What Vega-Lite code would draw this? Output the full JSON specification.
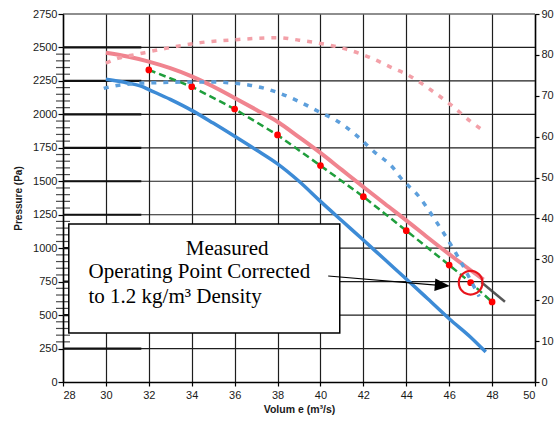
{
  "$schema": "https://vega.github.io/schema/vega-lite/v6.json",
  "width": 472,
  "height": 368,
  "autosize": "none",
  "padding": {"left": 63, "top": 14, "right": 25, "bottom": 44},
  "background": "white",
  "config": {
    "view": {"stroke": null},
    "axis": {
      "labelFont": "Liberation Sans",
      "labelFontSize": 11,
      "labelColor": "#1a1a1a",
      "titleFont": "Liberation Sans",
      "titleFontWeight": "bold",
      "titleColor": "#1a1a1a",
      "domainColor": "#000",
      "domainWidth": 1.5,
      "tickColor": "#000",
      "tickWidth": 1.2,
      "gridColor": "#1e1e1e",
      "gridWidth": 1.2,
      "gridOpacity": 1,
      "labelOverlap": false
    }
  },
  "datasets": {
    "pinkSolid": [
      {"x": 30, "y": 2460}, {"x": 31, "y": 2432}, {"x": 32, "y": 2394}, {"x": 33, "y": 2345},
      {"x": 34, "y": 2284}, {"x": 35, "y": 2208}, {"x": 36, "y": 2122}, {"x": 37, "y": 2035},
      {"x": 38, "y": 1945}, {"x": 39, "y": 1830}, {"x": 40, "y": 1712}, {"x": 41, "y": 1585},
      {"x": 42, "y": 1458}, {"x": 43, "y": 1332}, {"x": 44, "y": 1208}, {"x": 45, "y": 1080},
      {"x": 46, "y": 955}, {"x": 47, "y": 835}, {"x": 47.6, "y": 765}
    ],
    "blueSolid": [
      {"x": 30, "y": 2262}, {"x": 31, "y": 2235}, {"x": 31.7, "y": 2207}, {"x": 32, "y": 2185},
      {"x": 33, "y": 2112}, {"x": 34, "y": 2030}, {"x": 35, "y": 1935}, {"x": 36, "y": 1836},
      {"x": 37, "y": 1735}, {"x": 38, "y": 1630}, {"x": 39, "y": 1500}, {"x": 40, "y": 1350},
      {"x": 41, "y": 1205}, {"x": 42, "y": 1061}, {"x": 43, "y": 915}, {"x": 44, "y": 770},
      {"x": 45, "y": 622}, {"x": 46, "y": 473}, {"x": 47, "y": 335}, {"x": 47.7, "y": 225}
    ],
    "measured": [
      {"x": 32, "y": 2332}, {"x": 34, "y": 2207}, {"x": 36, "y": 2040}, {"x": 38, "y": 1846},
      {"x": 40, "y": 1617}, {"x": 42, "y": 1385}, {"x": 44, "y": 1131}, {"x": 46, "y": 874},
      {"x": 47, "y": 742}, {"x": 48, "y": 598}
    ],
    "pinkDot": [
      {"x": 30, "y": 78.0}, {"x": 30.6, "y": 79.2}, {"x": 31.5, "y": 80.2}, {"x": 32.8, "y": 81.6},
      {"x": 34.4, "y": 83.0}, {"x": 36, "y": 83.7}, {"x": 38, "y": 84.2}, {"x": 39, "y": 83.6},
      {"x": 40, "y": 82.8}, {"x": 41.2, "y": 81.4}, {"x": 42.3, "y": 79.4}, {"x": 43.4, "y": 76.7},
      {"x": 44, "y": 75.3}, {"x": 45.1, "y": 71.6}, {"x": 46.1, "y": 67.7}, {"x": 47, "y": 63.7},
      {"x": 47.5, "y": 61.8}
    ],
    "blueDot": [
      {"x": 29.9, "y": 71.8}, {"x": 30.6, "y": 72.6}, {"x": 32.3, "y": 73.2}, {"x": 34.7, "y": 73.4},
      {"x": 36.7, "y": 72.6}, {"x": 37.9, "y": 71.0}, {"x": 39, "y": 68.6}, {"x": 40, "y": 65.9},
      {"x": 40.7, "y": 64.1}, {"x": 41.7, "y": 60.2}, {"x": 42.5, "y": 56.3}, {"x": 43.4, "y": 52.3},
      {"x": 43.7, "y": 50.2}, {"x": 44.6, "y": 45.3}, {"x": 45.3, "y": 40.0}, {"x": 45.9, "y": 35.1},
      {"x": 46.5, "y": 29.8}, {"x": 47, "y": 24.9}, {"x": 47.4, "y": 20.9}
    ],
    "gridLevels": [
      {"y": 250}, {"y": 500}, {"y": 750}, {"y": 1000}, {"y": 1250}, {"y": 1500},
      {"y": 1750}, {"y": 2000}, {"y": 2250}, {"y": 2500}, {"y": 2750}
    ],
    "heavyGrid": [
      {"y": 250}, {"y": 500}, {"y": 750}, {"y": 1000}, {"y": 1250},
      {"y": 1500}, {"y": 1750}, {"y": 2000}, {"y": 2250}, {"y": 2500}
    ],
    "minorTicks": [
      {"y": 300}, {"y": 350}, {"y": 400}, {"y": 450},
      {"y": 550}, {"y": 600}, {"y": 650}, {"y": 700},
      {"y": 800}, {"y": 850}, {"y": 900}, {"y": 950},
      {"y": 1050}, {"y": 1100}, {"y": 1150}, {"y": 1200},
      {"y": 1300}, {"y": 1350}, {"y": 1400}, {"y": 1450},
      {"y": 1550}, {"y": 1600}, {"y": 1650}, {"y": 1700},
      {"y": 1800}, {"y": 1850}, {"y": 1900}, {"y": 1950},
      {"y": 2050}, {"y": 2100}, {"y": 2150}, {"y": 2200},
      {"y": 2300}, {"y": 2350}, {"y": 2400}, {"y": 2450}
    ],
    "box": [{"x": 28.27, "x2": 40.9, "y": 366, "y2": 1181}],
    "arrowLine": [{"x": 40.36, "y": 792}, {"x": 45.4, "y": 724}],
    "arrowHead": [{"x": 45.68, "y": 722}],
    "wedge": [{"x": 47.5, "y": 745}, {"x": 48.6, "y": 600}],
    "circle": [{"x": 47.0, "y": 742}],
    "noteCenter": [{"x": 35.65, "y": 949, "text": "Measured"}],
    "noteLeft": [
      {"x": 29.19, "y": 775, "text": "Operating Point Corrected"},
      {"x": 29.19, "y": 588, "text": "to 1.2 kg/m³ Density"}
    ]
  },
  "layer": [
    {
      "encoding": {
        "y": {
          "field": "y", "type": "quantitative",
          "scale": {"domain": [0, 2750], "nice": false},
          "axis": {
            "orient": "left",
            "values": [0, 250, 500, 750, 1000, 1250, 1500, 1750, 2000, 2250, 2500, 2750],
            "format": "d",
            "grid": false, "tickSize": 5, "labelPadding": 1,
            "title": "Pressure (Pa)", "titleFontSize": 10, "titlePadding": 9
          }
        }
      },
      "layer": [
        {
          "data": {"name": "gridLevels"},
          "mark": {"type": "rule", "color": "#1e1e1e", "strokeWidth": 1.2},
          "encoding": {
            "x": {
              "datum": 28, "type": "quantitative",
              "scale": {"domain": [28, 50], "nice": false, "zero": false},
              "axis": {
                "values": [28, 30, 32, 34, 36, 38, 40, 42, 44, 46, 48, 50],
                "grid": true, "tickSize": 4, "labelPadding": 3,
                "title": "Volum e (m³/s)", "titleFontSize": 10.5, "titlePadding": 4
              }
            },
            "x2": {"datum": 50}
          }
        },
        {
          "data": {"name": "heavyGrid"},
          "mark": {"type": "rule", "color": "#111", "strokeWidth": 2.2},
          "encoding": {
            "x": {"datum": 28, "type": "quantitative"},
            "x2": {"datum": 31.65}
          }
        },
        {
          "data": {"name": "minorTicks"},
          "mark": {"type": "tick", "orient": "horizontal", "color": "#000", "size": 14, "thickness": 1.2},
          "encoding": {
            "x": {"datum": 28, "type": "quantitative"}
          }
        },
        {
          "data": {"name": "pinkSolid"},
          "mark": {"type": "line", "color": "#f0848f", "strokeWidth": 4, "interpolate": "monotone"},
          "encoding": {
            "x": {"field": "x", "type": "quantitative"}
          }
        },
        {
          "data": {"name": "blueSolid"},
          "mark": {"type": "line", "color": "#3d8bd6", "strokeWidth": 3.5, "interpolate": "monotone"},
          "encoding": {
            "x": {"field": "x", "type": "quantitative"}
          }
        },
        {
          "data": {"name": "measured"},
          "mark": {"type": "line", "color": "#1f9e3c", "strokeWidth": 2.5, "strokeDash": [7, 4]},
          "encoding": {
            "x": {"field": "x", "type": "quantitative"}
          }
        },
        {
          "data": {"name": "measured"},
          "mark": {"type": "point", "filled": true, "color": "#ff0000", "size": 45, "opacity": 1},
          "encoding": {
            "x": {"field": "x", "type": "quantitative"}
          }
        },
        {
          "data": {"name": "box"},
          "mark": {"type": "rect", "fill": "white", "stroke": "#000", "strokeWidth": 1.5},
          "encoding": {
            "x": {"field": "x", "type": "quantitative"},
            "x2": {"field": "x2"},
            "y2": {"field": "y2"}
          }
        },
        {
          "data": {"name": "noteCenter"},
          "mark": {"type": "text", "font": "Liberation Serif", "fontSize": 21, "align": "center", "baseline": "alphabetic", "color": "#000"},
          "encoding": {
            "x": {"field": "x", "type": "quantitative"},
            "text": {"field": "text"}
          }
        },
        {
          "data": {"name": "noteLeft"},
          "mark": {"type": "text", "font": "Liberation Serif", "fontSize": 21, "align": "left", "baseline": "alphabetic", "color": "#000"},
          "encoding": {
            "x": {"field": "x", "type": "quantitative"},
            "text": {"field": "text"}
          }
        },
        {
          "data": {"name": "arrowLine"},
          "mark": {"type": "line", "color": "#000", "strokeWidth": 1.2},
          "encoding": {
            "x": {"field": "x", "type": "quantitative"}
          }
        },
        {
          "data": {"name": "arrowHead"},
          "mark": {"type": "point", "filled": true, "color": "#000", "opacity": 1, "shape": "M -1 -0.85 L 1 0 L -1 0.85 Z", "size": 225, "angle": 4.7},
          "encoding": {
            "x": {"field": "x", "type": "quantitative"}
          }
        },
        {
          "data": {"name": "wedge"},
          "mark": {"type": "line", "color": "#3a3a3a", "strokeWidth": 2.5, "opacity": 0.85},
          "encoding": {
            "x": {"field": "x", "type": "quantitative"}
          }
        },
        {
          "data": {"name": "circle"},
          "mark": {"type": "point", "filled": false, "shape": "circle", "color": "#e8141c", "strokeWidth": 2.2, "size": 560, "opacity": 1},
          "encoding": {
            "x": {"field": "x", "type": "quantitative"}
          }
        }
      ]
    },
    {
      "encoding": {
        "x": {"field": "x", "type": "quantitative"},
        "y": {
          "field": "y", "type": "quantitative",
          "scale": {"domain": [0, 90], "nice": false},
          "axis": {
            "orient": "right",
            "values": [0, 10, 20, 30, 40, 50, 60, 70, 80, 90],
            "grid": false, "tickSize": 4, "labelPadding": 2, "title": null
          }
        }
      },
      "layer": [
        {
          "data": {"name": "pinkDot"},
          "mark": {"type": "line", "color": "#f3a0a8", "strokeWidth": 3.5, "strokeDash": [5, 7], "interpolate": "monotone"}
        },
        {
          "data": {"name": "blueDot"},
          "mark": {"type": "line", "color": "#5d9fdc", "strokeWidth": 3.5, "strokeDash": [5, 7], "interpolate": "monotone"}
        }
      ]
    }
  ],
  "resolve": {"scale": {"y": "independent"}, "axis": {"y": "independent"}}
}
